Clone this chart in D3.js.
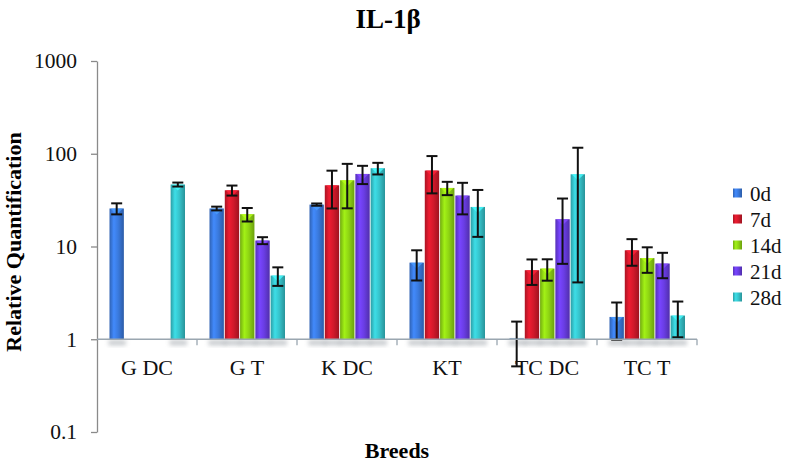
<!DOCTYPE html>
<html><head><meta charset="utf-8">
<script src="https://cdn.jsdelivr.net/npm/d3@7"></script>
<style>body{margin:0;background:#fff;} svg{display:block;} text{font-family:"Liberation Serif","Times New Roman",serif;}</style>
</head><body>
<svg id="chart" width="786" height="465"></svg>
<script>
const categories = ["G DC", "G T", "K DC", "KT", "TC DC", "TC T"];
const seriesNames = ["0d", "7d", "14d", "21d", "28d"];
const values0d  = [25.7, 25.7, 28.3, 6.7, 1.03, 1.74];
const values7d  = [null, 40.4, 45.7, 65.9, 5.55, 9.1];
const values14d = [null, 22.3, 51.8, 42.8, 5.78, 7.5];
const values21d = [null, 11.6, 60.6, 35.4, 19.7, 6.55];
const values28d = [46.6, 4.86, 69.8, 26.7, 60.1, 1.8];
const err0d  = [3.5, 1.2, 0.8, 2.4, 0.52, 0.75];
const err7d  = [null, 5, 20, 28.5, 1.7, 2.9];
const err14d = [null, 3.7, 26, 7, 1.5, 2.3];
const err21d = [null, 1.0, 13.5, 13.2, 13.2, 2.0];
const err28d = [2.3, 1.1, 10, 14, 56, 0.75];
const yTicks = [0.1, 1, 10, 100, 1000];
const colors = ["#3a7ade", "#d2192b", "#8fd513", "#6a3de4", "#36c4cc"];

const seriesValues = [values0d, values7d, values14d, values21d, values28d];
const seriesErrs = [err0d, err7d, err14d, err21d, err28d];
const FONT = "Liberation Serif, Times New Roman, serif";

const svg = d3.select("#chart");
const defs = svg.append("defs");
colors.forEach((c, i) => {
  const g = defs.append("linearGradient").attr("id", "g" + i)
    .attr("x1", "0%").attr("x2", "100%").attr("y1", "0%").attr("y2", "0%");
  const base = d3.color(c);
  g.append("stop").attr("offset", "0%").attr("stop-color", base.darker(0.6));
  g.append("stop").attr("offset", "30%").attr("stop-color", base.brighter(0.35));
  g.append("stop").attr("offset", "60%").attr("stop-color", base);
  g.append("stop").attr("offset", "100%").attr("stop-color", base.darker(0.8));
});
const blur = defs.append("filter").attr("id", "sh").attr("x", "-50%").attr("y", "-50%").attr("width", "200%").attr("height", "200%");
blur.append("feGaussianBlur").attr("stdDeviation", 2);

const x0 = d3.scaleBand().domain(categories).range([97, 697]).padding(0);
const x1 = d3.scaleBand().domain(seriesNames).range([12.5, 88]).paddingInner(0.06);
const y = d3.scaleLog().domain([0.1, 1000]).range([432, 61]);

// y axis
const yAxis = d3.axisLeft(y).tickValues(yTicks).tickFormat(d => d3.format("~g")(d)).tickSize(6).tickSizeOuter(0);
const gy = svg.append("g").attr("transform", "translate(97,0)").call(yAxis);
gy.attr("font-family", FONT);
gy.select(".domain").attr("stroke", "#8a8a8a").attr("stroke-width", 1.3);
gy.selectAll(".tick line").attr("stroke", "#8a8a8a").attr("stroke-width", 1.3);
gy.selectAll(".tick text").attr("font-family", FONT)
  .attr("font-size", 21.5).attr("fill", "#111").attr("x", -20);

const groups = svg.append("g");
const data = [];
categories.forEach((cat, ci) => {
  seriesNames.forEach((s, si) => {
    const v = seriesValues[si][ci];
    if (v != null) data.push({cat, s, si, v, e: seriesErrs[si][ci]});
  });
});
groups.selectAll("rect.shadow").data(data).enter().append("rect")
  .attr("class", "shadow")
  .attr("x", d => x0(d.cat) + x1(d.s) - 1)
  .attr("y", y(1) + 1)
  .attr("width", x1.bandwidth() + 3)
  .attr("height", 5)
  .attr("fill", "#a0a6ac").attr("opacity", 0.6).attr("filter", "url(#sh)");

// x axis line
svg.append("line").attr("x1", 97).attr("x2", 697).attr("y1", y(1)).attr("y2", y(1))
  .attr("stroke", "#9aa6b0").attr("stroke-width", 1.5);
const bounds = categories.map(c => x0(c) + x0.bandwidth());
svg.selectAll("line.xt").data(bounds).enter().append("line")
  .attr("x1", d => d).attr("x2", d => d).attr("y1", y(1)).attr("y2", y(1) + 6)
  .attr("stroke", "#9aa6b0").attr("stroke-width", 1.3);

// bars
groups.selectAll("rect.bar").data(data).enter().append("rect")
  .attr("class", "bar")
  .attr("x", d => x0(d.cat) + x1(d.s))
  .attr("y", d => Math.min(y(d.v), y(1) - 1))
  .attr("width", x1.bandwidth())
  .attr("height", d => Math.max(1.5, y(1) - y(d.v)))
  .attr("fill", d => d.v < 1.1 ? "#7fa3c8" : `url(#g${d.si})`);

groups.selectAll("path.chev").data(data.filter(d => y(1) - y(d.v) > 8)).enter().append("path")
  .attr("d", d => {
    const xl = x0(d.cat) + x1(d.s), w = x1.bandwidth(), yt = y(d.v);
    return `M${xl + 1},${yt} L${xl + w - 1},${yt} L${xl + w / 2},${yt + 6} Z`;
  })
  .attr("fill", d => d3.color(colors[d.si]).brighter(0.7)).attr("opacity", 0.8);

// error bars
const eg = groups.selectAll("g.err").data(data).enter().append("g").attr("class", "err");
eg.append("line")
  .attr("x1", d => x0(d.cat) + x1(d.s) + x1.bandwidth() / 2)
  .attr("x2", d => x0(d.cat) + x1(d.s) + x1.bandwidth() / 2)
  .attr("y1", d => y(d.v + d.e)).attr("y2", d => y(Math.max(0.12, d.v - d.e)))
  .attr("stroke", "#111").attr("stroke-width", 2);
[1, -1].forEach(sign => {
  eg.append("line")
    .attr("x1", d => x0(d.cat) + x1(d.s) + x1.bandwidth() / 2 - 5.5)
    .attr("x2", d => x0(d.cat) + x1(d.s) + x1.bandwidth() / 2 + 5.5)
    .attr("y1", d => y(Math.max(0.12, d.v + sign * d.e)))
    .attr("y2", d => y(Math.max(0.12, d.v + sign * d.e)))
    .attr("stroke", "#111").attr("stroke-width", 2);
});

// category labels
svg.selectAll("text.cat").data(categories).enter().append("text")
  .attr("x", d => x0(d) + x0.bandwidth() / 2).attr("y", 375)
  .attr("text-anchor", "middle")
  .attr("font-family", FONT).attr("font-size", 22).attr("fill", "#111")
  .text(d => d);

// title
svg.append("text").attr("x", 388).attr("y", 28).attr("text-anchor", "middle")
  .attr("font-family", FONT).attr("font-weight", "bold").attr("font-size", 27)
  .text("IL-1β");
// axis titles
svg.append("text").attr("transform", "translate(21,242) rotate(-90)").attr("text-anchor", "middle")
  .attr("font-family", FONT).attr("font-weight", "bold").attr("font-size", 22)
  .text("Relative Quantification");
svg.append("text").attr("x", 397).attr("y", 458).attr("text-anchor", "middle")
  .attr("font-family", FONT).attr("font-weight", "bold").attr("font-size", 22)
  .text("Breeds");

// legend
const lg = svg.append("g");
const li = lg.selectAll("g").data(seriesNames).enter().append("g")
  .attr("transform", (d, i) => `translate(733,${193 + i * 26})`);
li.append("rect").attr("x", 0).attr("y", -4.5).attr("width", 9).attr("height", 9)
  .attr("fill", (d, i) => `url(#g${i})`);
li.append("text").attr("x", 17).attr("y", 7.5)
  .attr("font-family", FONT).attr("font-size", 21).attr("fill", "#111")
  .text(d => d);
</script>
</body></html>
